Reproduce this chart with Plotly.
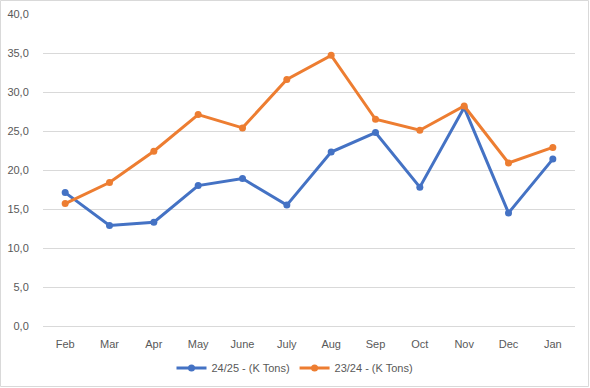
import plotly.graph_objects as go

months = ["Feb", "Mar", "Apr", "May", "June", "July", "Aug", "Sep", "Oct", "Nov", "Dec", "Jan"]
s2425_name = "24/25 - (K Tons)"
s2425 = [17.1, 12.9, 13.3, 18.0, 18.9, 15.5, 22.3, 24.8, 17.8, 28.0, 14.5, 21.4]
s2324_name = "23/24 - (K Tons)"
s2324 = [15.7, 18.4, 22.4, 27.1, 25.4, 31.6, 34.7, 26.5, 25.1, 28.2, 20.9, 22.9]

W, H = 590, 388
ml, mr, mt, mb = 43, 15, 14, 62
pw, ph = W - ml - mr, H - mt - mb

fig = go.Figure()
fig.add_trace(go.Scatter(x=months, y=s2425, name=s2425_name, mode="lines+markers",
                         line=dict(color="#4472C4", width=3),
                         marker=dict(color="#4472C4", size=7)))
fig.add_trace(go.Scatter(x=months, y=s2324, name=s2324_name, mode="lines+markers",
                         line=dict(color="#ED7D31", width=3),
                         marker=dict(color="#ED7D31", size=7)))

fig.update_layout(
    width=W, height=H,
    margin=dict(l=ml, r=mr, t=mt, b=mb, autoexpand=False),
    paper_bgcolor="white", plot_bgcolor="white",
    separators=", ",
    font=dict(family="Liberation Sans, Arial, sans-serif", size=11, color="#595959"),
    showlegend=True,
    legend=dict(orientation="h", x=0.5, xanchor="center", xref="container",
                y=(H - 368) / H, yanchor="middle", yref="container",
                font=dict(size=11, color="#595959"), itemwidth=30),
    xaxis=dict(range=[-0.5, len(months) - 0.5], showgrid=False, zeroline=False,
               showline=False, ticks="outside", ticklen=8, tickcolor="rgba(0,0,0,0)",
               automargin=False, tickfont=dict(size=11, color="#595959")),
    yaxis=dict(range=[0, 40], dtick=5, tickformat=".1f", showgrid=True, automargin=False,
               gridcolor="#D9D9D9", gridwidth=1,
               zeroline=True, zerolinecolor="#D9D9D9", zerolinewidth=1, showline=False,
               ticks="outside", ticklen=11, tickcolor="rgba(0,0,0,0)",
               tickfont=dict(size=11, color="#595959")),
    shapes=[dict(type="rect", xref="paper", yref="paper",
                 x0=-ml / pw + 0.5 / pw, x1=1 + (mr - 1.5) / pw,
                 y0=-mb / ph + 1.5 / ph, y1=1 + (mt - 0.5) / ph,
                 line=dict(color="#D9D9D9", width=1), layer="below")],
)

fig.write_html("out.html", config={"displayModeBar": False},
               post_script="document.body.style.margin='0';document.body.style.overflow='hidden';")
